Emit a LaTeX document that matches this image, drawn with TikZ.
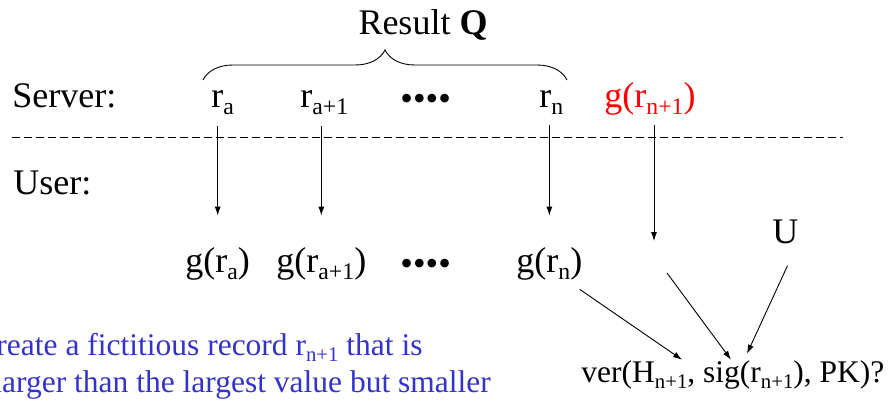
\documentclass[tikz,border=0pt]{standalone}
\usepackage{fontspec}
\usepackage{graphicx}
\setmainfont{Liberation Serif}
\usetikzlibrary{arrows.meta,decorations.pathreplacing}
\definecolor{noteblue}{RGB}{51,51,204}
\newcommand{\sbs}[1]{\raisebox{-0.22em}{\scalebox{0.66}{#1}}}
\newcommand{\dotrow}{\raisebox{-3pt}{••••}}
\begin{document}
\begin{tikzpicture}[x=1pt,y=-1pt,line width=0.9pt,>={Latex[length=9pt,width=6pt]},
  every node/.style={inner sep=0pt,font=\fontsize{36}{40}\selectfont},
  lbl/.style={anchor=base west},small/.style={font=\fontsize{31.5}{37}\selectfont},
  down/.style={->,shorten <=10pt,shorten >=31pt}]
\useasboundingbox (0,0) rectangle (892,402); \clip (0,0) rectangle (892,402);
% server row
\node[anchor=base] (res) at (423,34) {Result \textbf{Q}}; \draw[decorate,decoration={brace,amplitude=30pt}] (203,80) -- (567,80);
\node[lbl] (srv) at (12,107) {Server:}; \node[lbl] (ra) at (211,107) {r\sbs{a}}; \node[lbl] (ra1) at (300,107) {r\sbs{a+1}}; \node[lbl] (sdots) at (400,107) {\dotrow}; \node[lbl] (rn) at (539,107) {r\sbs{n}}; \node[lbl,red] (grn1) at (604,107) {g(r\sbs{n+1})};
\draw[dash pattern=on 8pt off 4pt] (12,137) -- (843,137);
% user row
\node[lbl] (usr) at (13,194) {User:};
\node[lbl] (gra) at (185,272) {g(r\sbs{a})}; \node[lbl] (gra1) at (276,272) {g(r\sbs{a+1})}; \node[lbl] (udots) at (400,272) {\dotrow}; \node[lbl] (grn) at (516,272) {g(r\sbs{n})};
\node[lbl] (u) at (772,243) {U}; \coordinate (hslot) at (654,241); \coordinate (hsrc) at (667,273);
\node[lbl,small] (ver) at (581,382) {ver(H\sbs{n+1}, sig(r\sbs{n+1}), PK)?};
\draw[down] (ra.south -| gra.north) -- (gra.north); \draw[down] (ra1.south -| gra1.north) -- (gra1.north); \draw[down] (rn.south -| grn.north) -- (grn.north);
\draw[->,shorten <=10pt] (grn1.south -| hslot) -- (hslot);
\draw[->] ([xshift=-3pt,yshift=-9pt]grn.south east) -- ([xshift=101pt]ver.north west); \draw[->] (hsrc) -- ([xshift=150pt]ver.north west); \draw[->] ([xshift=2pt,yshift=-22pt]u.south) -- ([xshift=166pt,yshift=6pt]ver.north west);
% note
\node[lbl,small,noteblue] (note1) at (-25,355) {Create a fictitious record r\sbs{n+1} that is}; \node[lbl,small,noteblue] (note2) at (-7,392) {larger than the largest value but smaller};
\end{tikzpicture}
\end{document}
